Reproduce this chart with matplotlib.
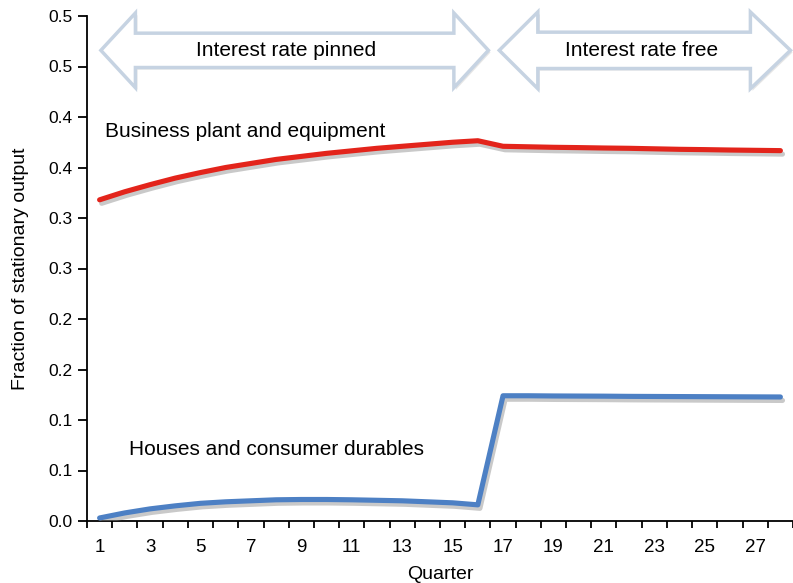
import matplotlib
matplotlib.use("Agg")
import matplotlib.pyplot as plt
import matplotlib.patheffects as pe
from matplotlib.patches import Polygon

plt.rcParams['font.family'] = ['Liberation Sans', 'DejaVu Sans']

quarters = list(range(1, 29))
business = [0.318, 0.326, 0.333, 0.3395, 0.345, 0.350, 0.354, 0.358, 0.361, 0.364,
            0.3665, 0.369, 0.371, 0.373, 0.375, 0.3765, 0.371, 0.3705, 0.370, 0.3697,
            0.3693, 0.369, 0.3685, 0.368, 0.3677, 0.3673, 0.367, 0.3667]
houses = [0.003, 0.008, 0.012, 0.015, 0.0175, 0.019, 0.020, 0.021, 0.0213, 0.0213,
          0.021, 0.0205, 0.020, 0.019, 0.018, 0.016, 0.124, 0.124, 0.1238, 0.1237,
          0.1236, 0.1234, 0.1233, 0.1232, 0.1231, 0.123, 0.1229, 0.1228]
ytick_vals = [0.0, 0.05, 0.10, 0.15, 0.20, 0.25, 0.30, 0.35, 0.40, 0.45, 0.50]
ytick_labels = ["0.0", "0.1", "0.1", "0.2", "0.2", "0.3", "0.3", "0.4", "0.4", "0.5", "0.5"]
xtick_labels = [str(q) for q in range(1, 28, 2)]

fig = plt.figure(figsize=(7.93, 5.83), dpi=100)
ax = fig.add_axes([87/793, 62/583, (793-87)/793, 505/583])
ax.set_xlim(0.5, 28.22)
ax.set_ylim(0, 0.5)

shadow = [pe.SimpleLineShadow(offset=(1.5, -2.5), shadow_color='#888888', alpha=0.45),
          pe.Normal()]
ax.plot(quarters, business, color='#e3241b', lw=3.7, solid_capstyle='round',
        path_effects=shadow, zorder=3)
ax.plot(quarters, houses, color='#4d80c4', lw=3.7, solid_capstyle='round',
        path_effects=shadow, zorder=3)

for s in ['top', 'right']:
    ax.spines[s].set_visible(False)
for s in ['left', 'bottom']:
    ax.spines[s].set_linewidth(1.3)

ax.set_yticks(ytick_vals)
ax.set_yticklabels(ytick_labels, fontsize=12.5)
ax.tick_params(axis='y', direction='out', length=6.5, width=1.3, pad=4)

ax.set_xticks([q for q in range(1, 28, 2)])
ax.set_xticklabels(xtick_labels, fontsize=13.5)
ax.tick_params(axis='x', which='major', length=0, pad=13)
ax.set_xticks([b + 0.5 for b in range(0, 29)], minor=True)
ax.tick_params(axis='x', which='minor', direction='out', length=5, width=1.3)

ax.set_ylabel("Fraction of stationary output", fontsize=14, labelpad=14)
ax.set_xlabel("Quarter", fontsize=14, labelpad=7)

def double_arrow(x0, xh0, xh1, x1, yc, hb, hh):
    pts = [(x0, yc), (xh0, yc + hh), (xh0, yc + hb), (xh1, yc + hb), (xh1, yc + hh),
           (x1, yc), (xh1, yc - hh), (xh1, yc - hb), (xh0, yc - hb), (xh0, yc - hh)]
    poly = Polygon(pts, closed=True, facecolor='white', edgecolor='#c6d3e2', lw=2.5,
                   joinstyle='miter', clip_on=False, zorder=4,
                   path_effects=[pe.SimplePatchShadow(offset=(1.5, -1.5), shadow_rgbFace='#cccccc', alpha=0.5),
                                 pe.Normal()])
    ax.add_patch(poly)

double_arrow(1.05, 2.42, 15.05, 16.42, 0.466, 0.017, 0.037)
double_arrow(16.85, 18.38, 26.81, 28.4, 0.466, 0.018, 0.038)

tb = dict(facecolor='white', edgecolor='none', pad=1.5)
ax.text(8.4, 0.466, "Interest rate pinned", fontsize=15, ha='center', va='center',
        bbox=tb, zorder=5)
ax.text(22.5, 0.466, "Interest rate free", fontsize=15, ha='center', va='center',
        bbox=tb, zorder=5)
ax.text(1.2, 0.386, "Business plant and equipment", fontsize=15, ha='left', va='center',
        bbox=tb, zorder=5)
ax.text(2.15, 0.071, "Houses and consumer durables", fontsize=15, ha='left', va='center',
        bbox=tb, zorder=5)

fig.savefig("out.png", dpi=100)
